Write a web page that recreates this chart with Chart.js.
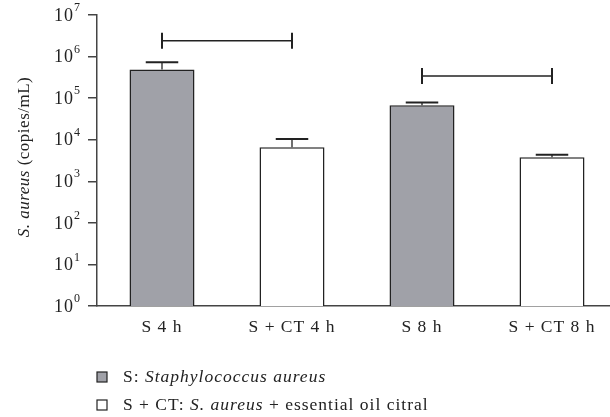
<!DOCTYPE html>
<html>
<head>
<meta charset="utf-8">
<script src="https://cdn.jsdelivr.net/npm/chart.js@4"></script>
<style>
  html, body { margin: 0; padding: 0; background: #fff; overflow: hidden; }
  #wrap { width: 620px; height: 417px; }
</style>
</head>
<body>
<div id="wrap"><canvas id="qpcrChart" width="620" height="417"></canvas></div>
<script>
// values (copies/mL, log scale)
const categories = ['S 4 h', 'S + CT 4 h', 'S 8 h', 'S + CT 8 h'];
const means = [4.9e5, 6.6e3, 6.7e4, 3.8e3];
const errorTops = [7.3e5, 1.04e4, 7.9e4, 4.35e3];
const barColors = ['#a0a1a8', '#ffffff', '#a0a1a8', '#ffffff'];
const yTickValues = [1, 10, 100, 1e3, 1e4, 1e5, 1e6, 1e7];
const yTickBase = '10';
const yTickExponents = ['0', '1', '2', '3', '4', '5', '6', '7'];
const bracketPairs = [[0, 1], [2, 3]];
const bracketLevels = [2.4e6, 3.4e5];
const legendLabels = [
    [['S: ', 'normal'], ['Staphylococcus aureus', 'italic']],
    [['S + CT: ', 'normal'], ['S. aureus', 'italic'], [' + essential oil citral', 'normal']]
];
const legendColors = ['#a0a1a8', '#ffffff'];

const FONT = '"Liberation Serif", "DejaVu Serif", serif';
const INK = '#222222';

const extrasPlugin = {
    id: 'extras',
    beforeDraw(chart) {
        chart.ctx.letterSpacing = '1px';
    },
    afterDatasetsDraw(chart) {
        const ctx = chart.ctx;
        const meta = chart.getDatasetMeta(0);
        const y = chart.scales.y;
        ctx.save();
        ctx.strokeStyle = INK;
        // error bars (upper only)
        meta.data.forEach((bar, i) => {
            const top = y.getPixelForValue(errorTops[i]);
            const half = bar.width / 4;
            ctx.lineWidth = 1.3;
            ctx.beginPath();
            ctx.moveTo(bar.x, bar.y);
            ctx.lineTo(bar.x, top);
            ctx.stroke();
            ctx.lineWidth = 2;
            ctx.beginPath();
            ctx.moveTo(bar.x - half, top);
            ctx.lineTo(bar.x + half, top);
            ctx.stroke();
        });
        // significance brackets
        bracketPairs.forEach((pair, k) => {
            const x1 = meta.data[pair[0]].x;
            const x2 = meta.data[pair[1]].x;
            const by = y.getPixelForValue(bracketLevels[k]);
            ctx.lineWidth = 1.5;
            ctx.beginPath();
            ctx.moveTo(x1, by);
            ctx.lineTo(x2, by);
            ctx.stroke();
            ctx.lineWidth = 2;
            ctx.beginPath();
            ctx.moveTo(x1, by - 8);
            ctx.lineTo(x1, by + 8);
            ctx.moveTo(x2, by - 8);
            ctx.lineTo(x2, by + 8);
            ctx.stroke();
        });
        ctx.restore();
    },
    afterDraw(chart) {
        const ctx = chart.ctx;
        const y = chart.scales.y;
        ctx.save();
        ctx.fillStyle = INK;
        ctx.letterSpacing = '1px';
        ctx.textBaseline = 'middle';

        // y tick labels: 10 with superscript exponent
        yTickValues.forEach((v, i) => {
            const py = y.getPixelForValue(v);
            ctx.font = '18px ' + FONT;
            ctx.textAlign = 'right';
            const expW = 8;
            ctx.fillText(yTickBase, 82 - expW, py + 1);
            ctx.font = '12px ' + FONT;
            ctx.textAlign = 'left';
            ctx.fillText(yTickExponents[i], 82 - expW, py - 7);
        });

        // y axis title with mixed italic
        const parts = [['S. aureus', 'italic'], [' (copies/mL)', 'normal']];
        ctx.letterSpacing = '0.5px';
        let total = 0;
        parts.forEach(p => {
            ctx.font = p[1] + ' 17px ' + FONT;
            total += ctx.measureText(p[0]).width;
        });
        ctx.save();
        ctx.translate(25, 157);
        ctx.rotate(-Math.PI / 2);
        ctx.textAlign = 'left';
        let cx = -total / 2;
        parts.forEach(p => {
            ctx.font = p[1] + ' 17px ' + FONT;
            ctx.fillText(p[0], cx, 0);
            cx += ctx.measureText(p[0]).width;
        });
        ctx.restore();

        // legend
        ctx.letterSpacing = '1px';
        legendLabels.forEach((row, i) => {
            const ly = 377 + i * 28;
            ctx.fillStyle = legendColors[i];
            ctx.fillRect(97, ly - 5, 10, 10);
            ctx.strokeStyle = INK;
            ctx.lineWidth = 1.2;
            ctx.strokeRect(97, ly - 5, 10, 10);
            ctx.fillStyle = INK;
            ctx.textAlign = 'left';
            let lx = 123;
            row.forEach(p => {
                ctx.font = p[1] + ' 17.5px ' + FONT;
                ctx.fillText(p[0], lx, ly);
                lx += ctx.measureText(p[0]).width;
            });
        });
        ctx.restore();
    }
};

new Chart(document.getElementById('qpcrChart'), {
    type: 'bar',
    data: {
        labels: categories,
        datasets: [{
            data: means,
            backgroundColor: barColors,
            borderColor: INK,
            borderWidth: 1.5,
            borderSkipped: 'bottom',
            categoryPercentage: 1,
            barPercentage: 0.5
        }]
    },
    options: {
        responsive: false,
        animation: false,
        layout: { padding: { top: 15, right: 3, left: 0, bottom: 0 } },
        plugins: {
            legend: { display: false },
            tooltip: { enabled: false }
        },
        scales: {
            x: {
                grid: { display: false, drawTicks: false },
                border: { display: true, color: '#444', width: 1.5 },
                ticks: {
                    color: INK,
                    padding: 11,
                    font: { family: FONT, size: 17.5 }
                },
                afterFit(scale) { scale.height = 111; }
            },
            y: {
                type: 'logarithmic',
                min: 1,
                max: 1e7,
                grid: { drawOnChartArea: false, tickLength: 9, color: '#444', lineWidth: 1.5 },
                border: { display: true, color: '#444', width: 1.5 },
                ticks: {
                    callback: () => ''
                },
                afterBuildTicks(scale) {
                    scale.ticks = yTickValues.map(v => ({ value: v }));
                },
                afterFit(scale) { scale.width = 97; }
            }
        }
    },
    plugins: [extrasPlugin]
});
</script>
</body>
</html>
